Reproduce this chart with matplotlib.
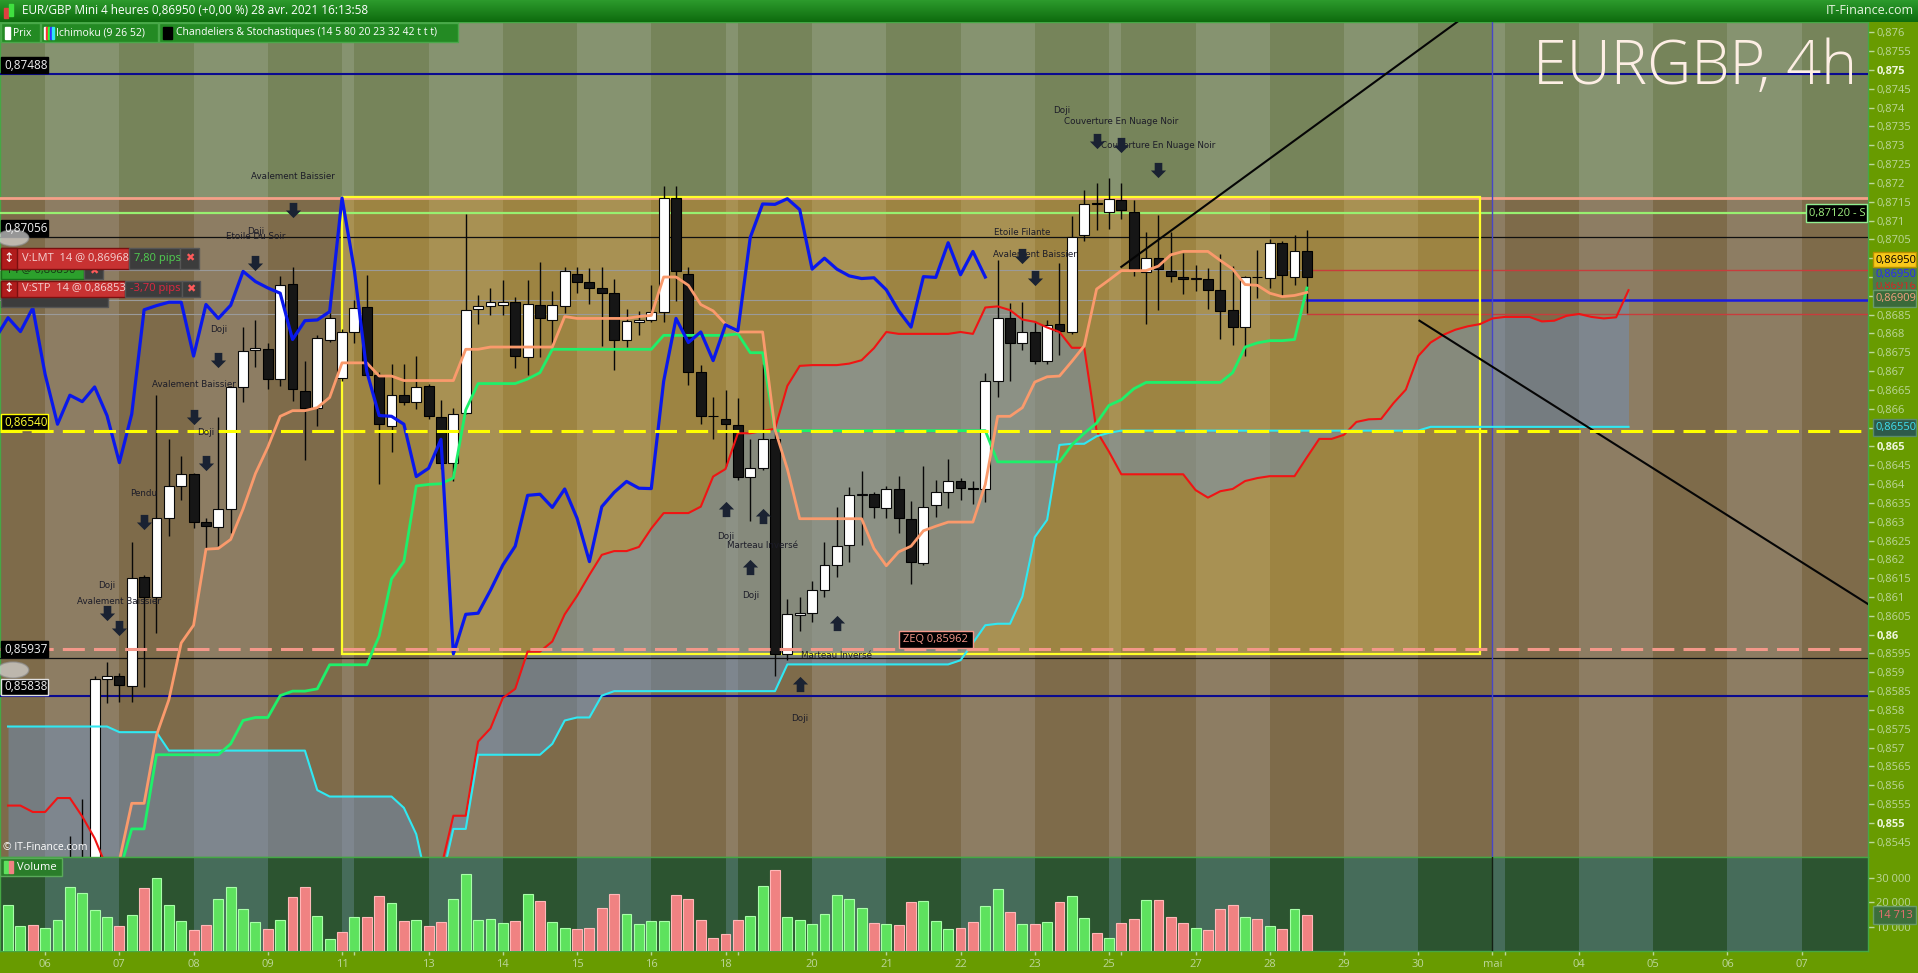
import numpy as np
import pandas as pd
import matplotlib
matplotlib.use("Agg")
import matplotlib.pyplot as plt
from matplotlib.patches import Rectangle
from matplotlib.path import Path
from matplotlib.colors import LinearSegmentedColormap

# ---------------------------------------------------------------- data
opens = [0.8512, 0.8515, 0.8519, 0.8513, 0.8517, 0.8525, 0.8538, 0.8539, 0.85883, 0.85891,
         0.85864, 0.86153, 0.86101, 0.86311, 0.86395, 0.86426, 0.86299, 0.86285, 0.86333, 0.86658,
         0.86755, 0.86758, 0.86678, 0.86932, 0.86647, 0.86601, 0.86784, 0.86681, 0.86805, 0.86870,
         0.86691, 0.86553, 0.86636, 0.86617, 0.86660, 0.86577, 0.86455, 0.86588, 0.86866, 0.86874,
         0.86876, 0.86883, 0.86737, 0.86875, 0.86835, 0.86874, 0.86959, 0.86936, 0.86921, 0.86907,
         0.86782, 0.86831, 0.86837, 0.86858, 0.87160, 0.86959, 0.86699, 0.86582, 0.86572, 0.86556,
         0.86420, 0.86442, 0.86519, 0.85949, 0.86052, 0.86058, 0.86118, 0.86185, 0.86239, 0.86371,
         0.86373, 0.86337, 0.86387, 0.86308, 0.86191, 0.86344, 0.86378, 0.86407, 0.86389, 0.86387,
         0.86675, 0.86840, 0.86775, 0.86804, 0.86726, 0.86825, 0.86805, 0.87061, 0.87146, 0.87123,
         0.87154, 0.87123, 0.86963, 0.87000, 0.86965, 0.86951, 0.86946, 0.86944, 0.86915, 0.86862,
         0.86817, 0.86950, 0.86948, 0.87041, 0.86951, 0.87020]
highs = [0.8518, 0.8522, 0.8521, 0.8520, 0.8528, 0.85464, 0.85564, 0.85891, 0.85928, 0.85899,
         0.86247, 0.86158, 0.86636, 0.86519, 0.86475, 0.86430, 0.86311, 0.86577, 0.86660, 0.86817,
         0.86837, 0.86775, 0.86952, 0.86977, 0.86726, 0.86795, 0.86854, 0.86813, 0.86889, 0.86956,
         0.86699, 0.86720, 0.86720, 0.86740, 0.86665, 0.86623, 0.86603, 0.87117, 0.86903, 0.86921,
         0.86942, 0.86897, 0.86942, 0.86991, 0.86913, 0.86977, 0.86977, 0.86973, 0.86977, 0.86944,
         0.86866, 0.86860, 0.86930, 0.87193, 0.87193, 0.86977, 0.86716, 0.86632, 0.86650, 0.86629,
         0.86521, 0.86720, 0.86545, 0.86095, 0.86101, 0.86142, 0.86247, 0.86340, 0.86393, 0.86434,
         0.86380, 0.86395, 0.86422, 0.86356, 0.86448, 0.86410, 0.86466, 0.86416, 0.86407, 0.86696,
         0.86994, 0.86881, 0.86883, 0.86833, 0.86837, 0.86988, 0.87111, 0.87181, 0.87199, 0.87213,
         0.87199, 0.87154, 0.87070, 0.87115, 0.87070, 0.87014, 0.86983, 0.86974, 0.87012, 0.86980,
         0.86953, 0.87021, 0.87050, 0.87047, 0.87061, 0.87074]
lows = [0.8506, 0.8511, 0.8510, 0.8509, 0.8514, 0.8522, 0.8533, 0.8535, 0.85818, 0.85821,
        0.85821, 0.85862, 0.86005, 0.86262, 0.86358, 0.86282, 0.86229, 0.86235, 0.86270, 0.86617,
        0.86712, 0.86653, 0.86661, 0.86621, 0.86465, 0.86553, 0.86778, 0.86675, 0.86775, 0.86691,
        0.86399, 0.86484, 0.86611, 0.86600, 0.86574, 0.86440, 0.86407, 0.86585, 0.86825, 0.86848,
        0.86848, 0.86708, 0.86691, 0.86737, 0.86772, 0.86854, 0.86907, 0.86877, 0.86767, 0.86702,
        0.86764, 0.86795, 0.86831, 0.86831, 0.86887, 0.86664, 0.86559, 0.86521, 0.86449, 0.86410,
        0.86302, 0.86438, 0.85891, 0.85932, 0.86010, 0.86034, 0.86099, 0.86153, 0.86194, 0.86239,
        0.86311, 0.86311, 0.86270, 0.86134, 0.86185, 0.86313, 0.86337, 0.86358, 0.86346, 0.86352,
        0.86632, 0.86675, 0.86755, 0.86720, 0.86720, 0.86743, 0.86799, 0.87047, 0.87076, 0.87078,
        0.87104, 0.86953, 0.86825, 0.86862, 0.86936, 0.86904, 0.86912, 0.86866, 0.86786, 0.86769,
        0.86741, 0.86895, 0.86921, 0.86897, 0.86930, 0.86854]
closes = [0.8515, 0.8519, 0.8513, 0.8517, 0.8525, 0.8538, 0.8540, 0.85881, 0.85891, 0.85865,
          0.86150, 0.86101, 0.86311, 0.86396, 0.86426, 0.86299, 0.86288, 0.86333, 0.86658, 0.86753,
          0.86761, 0.86680, 0.86930, 0.86652, 0.86601, 0.86788, 0.86842, 0.86805, 0.86868, 0.86691,
          0.86559, 0.86636, 0.86619, 0.86658, 0.86582, 0.86457, 0.86586, 0.86863, 0.86874, 0.86883,
          0.86883, 0.86740, 0.86877, 0.86840, 0.86875, 0.86965, 0.86938, 0.86921, 0.86907, 0.86784,
          0.86834, 0.86836, 0.86858, 0.87160, 0.86967, 0.86699, 0.86582, 0.86580, 0.86559, 0.86420,
          0.86442, 0.86519, 0.85949, 0.86054, 0.86057, 0.86118, 0.86185, 0.86235, 0.86370, 0.86373,
          0.86338, 0.86387, 0.86309, 0.86194, 0.86340, 0.86378, 0.86407, 0.86389, 0.86388, 0.86673,
          0.86840, 0.86776, 0.86804, 0.86728, 0.86823, 0.86807, 0.87055, 0.87144, 0.87143, 0.87158,
          0.87129, 0.86971, 0.87000, 0.86971, 0.86953, 0.86946, 0.86948, 0.86916, 0.86860, 0.86817,
          0.86951, 0.86949, 0.87041, 0.86956, 0.87018, 0.86950]
volumes_k = [18.8, 10.2, 10.6, 9.4, 12.7, 26.1, 23.7, 16.7, 13.9, 10.2,
             14.7, 25.7, 29.8, 18.8, 12.2, 8.6, 10.6, 21.2, 26.1, 17.1,
             11.8, 9.0, 12.7, 22.0, 26.1, 14.3, 4.9, 7.8, 13.9, 13.9,
             22.4, 19.6, 12.2, 12.7, 10.2, 11.8, 21.2, 31.4, 12.7, 13.1,
             11.4, 12.2, 23.3, 20.4, 11.8, 9.4, 9.0, 9.4, 17.6, 23.3,
             15.1, 11.0, 12.2, 12.2, 22.9, 21.2, 12.7, 5.3, 6.9, 12.7,
             14.3, 26.5, 33.1, 13.9, 12.7, 11.0, 15.1, 22.9, 21.2, 17.6,
             11.4, 11.0, 10.6, 20.0, 20.4, 12.2, 9.0, 9.4, 11.8, 18.4,
             25.3, 15.9, 11.0, 11.0, 11.8, 20.0, 22.4, 13.5, 7.3, 5.3,
             11.4, 13.1, 20.8, 20.8, 13.9, 11.4, 9.4, 8.6, 17.1, 18.8,
             13.9, 13.1, 10.2, 9.0, 17.1, 14.713]
tenkan = [0.8513, 0.8514, 0.8515, 0.8515, 0.8516, 0.8520, 0.8526, 0.8532, 0.8536, 0.8540,
          0.85552, 0.85552, 0.85733, 0.85827, 0.85978, 0.86025, 0.86227, 0.86229, 0.86253, 0.86334,
          0.86428, 0.86498, 0.86580, 0.86595, 0.86595, 0.86603, 0.86630, 0.86722, 0.86722, 0.86722,
          0.86687, 0.86687, 0.86675, 0.86675, 0.86675, 0.86675, 0.86675, 0.86758, 0.86758, 0.86764,
          0.86764, 0.86764, 0.86764, 0.86764, 0.86764, 0.86845, 0.86840, 0.86840, 0.86840, 0.86840,
          0.86840, 0.86845, 0.86848, 0.86950, 0.86950, 0.86928, 0.86877, 0.86860, 0.86825, 0.86804,
          0.86804, 0.86804, 0.86545, 0.86440, 0.86308, 0.86308, 0.86308, 0.86308, 0.86308, 0.86308,
          0.86229, 0.86183, 0.86220, 0.86235, 0.86276, 0.86288, 0.86299, 0.86299, 0.86299, 0.86399,
          0.86580, 0.86580, 0.86603, 0.86671, 0.86685, 0.86687, 0.86726, 0.86767, 0.86918, 0.86942,
          0.86967, 0.86967, 0.86967, 0.86979, 0.87009, 0.87018, 0.87018, 0.87018, 0.86994, 0.86971,
          0.86930, 0.86928, 0.86907, 0.86898, 0.86901, 0.86909]
kijun = [0.8515, 0.8515, 0.8515, 0.8515, 0.8516, 0.8518, 0.8522, 0.8528, 0.8533, 0.8537,
         0.85484, 0.85484, 0.85681, 0.85681, 0.85681, 0.85681, 0.85681, 0.85681, 0.85710, 0.85772,
         0.85780, 0.85780, 0.85838, 0.85850, 0.85850, 0.85856, 0.85920, 0.85920, 0.85920, 0.85920,
         0.85996, 0.86148, 0.86194, 0.86395, 0.86399, 0.86401, 0.86416, 0.86597, 0.86667, 0.86667,
         0.86667, 0.86667, 0.86679, 0.86696, 0.86758, 0.86758, 0.86758, 0.86758, 0.86758, 0.86758,
         0.86758, 0.86758, 0.86758, 0.86795, 0.86795, 0.86795, 0.86795, 0.86795, 0.86795, 0.86799,
         0.86749, 0.86749, 0.86542, 0.86542, 0.86542, 0.86542, 0.86542, 0.86542, 0.86542, 0.86542,
         0.86542, 0.86542, 0.86542, 0.86542, 0.86542, 0.86542, 0.86542, 0.86542, 0.86542, 0.86542,
         0.86459, 0.86459, 0.86459, 0.86459, 0.86459, 0.86459, 0.86504, 0.86535, 0.86562, 0.86609,
         0.86624, 0.86653, 0.86670, 0.86670, 0.86670, 0.86670, 0.86670, 0.86670, 0.86670, 0.86696,
         0.86764, 0.86775, 0.86781, 0.86781, 0.86784, 0.86921]
senkou_a = [0.85546, 0.85546, 0.85529, 0.85529, 0.85566, 0.85566, 0.85517, 0.85459,
            0.8538, 0.8533, 0.8530, 0.8528, 0.8527, 0.8526, 0.8526, 0.8525, 0.8525, 0.8524,
            0.8524, 0.8523, 0.8523, 0.8522, 0.8521, 0.8520, 0.8518, 0.8516,
            0.8514, 0.8515, 0.8516, 0.8516, 0.8517, 0.8520, 0.8525, 0.8530, 0.8535, 0.8538,
            0.85519, 0.85519, 0.85716, 0.85751, 0.85832, 0.85856, 0.85955, 0.85955, 0.85982, 0.86054,
            0.86103, 0.86159, 0.86212, 0.86222, 0.86222, 0.86233, 0.86282, 0.86323, 0.86323, 0.86323,
            0.86340, 0.86420, 0.86440, 0.86535, 0.86535, 0.86541, 0.86547, 0.86661, 0.86714, 0.86716,
            0.86716, 0.86716, 0.86720, 0.86729, 0.86761, 0.86804, 0.86799, 0.86799, 0.86799, 0.86799,
            0.86799, 0.86804, 0.86799, 0.86869, 0.86872, 0.86862, 0.86837, 0.86831, 0.86816, 0.86804,
            0.86762, 0.86762, 0.86541, 0.86486, 0.86426, 0.86426, 0.86426, 0.86426, 0.86426, 0.86426,
            0.86384, 0.86364, 0.86381, 0.86387, 0.86408, 0.86416, 0.86421, 0.86421, 0.86421, 0.86471,
            0.86520, 0.86520, 0.86531, 0.86565, 0.86572, 0.86573, 0.86615, 0.86651, 0.86740, 0.86776,
            0.86796, 0.86810, 0.86819, 0.86825, 0.86840, 0.86844, 0.86844, 0.86844, 0.86832, 0.86834,
            0.86847, 0.86852, 0.86844, 0.86840, 0.86843, 0.86915]
senkou_b = ([0.85756] * 9 + [0.85741] * 4 + [0.85692] * 12 + [0.85587] + [0.85570] * 6
            + [0.85540, 0.85470, 0.8532, 0.8534] + [0.85484] * 2 + [0.85681] * 6
            + [0.85710, 0.85772, 0.85780, 0.85780, 0.85838] + [0.85850] * 14 + [0.85921] * 14
            + [0.85932, 0.85978, 0.86025, 0.86029, 0.86029, 0.86101, 0.86259, 0.86305, 0.86504,
               0.86507, 0.86507, 0.86527, 0.86536]
            + [0.86542] * 25 + [0.86552] * 17)

# drawn objects (user levels / tools)
level_navy = [0.87488, 0.85838]
level_resist = 0.87160
level_s = 0.87120
level_black = [0.87056, 0.85937]
level_yellow = 0.86540
level_zeq = 0.85962
order_levels = [(0.86968, '#c83c3c', 1.0), (0.86890, '#1a1ae0', 1.8), (0.86853, '#c83c3c', 1.0)]
rect_bars = (27, 119)
rect_prices = (0.85949, 0.87162)
trend_up = ([90, 118.5], [0.86977, 0.87660])
trend_down = ([114.1, 151.0], [0.86834, 0.86068])

pattern_texts = [
    (23, "Avalement Baissier", 0.87216), (20, "Doji", 0.87071), (20, "Etoile Du Soir", 0.87057),
    (17, "Doji", 0.86810), (15, "Avalement Baissier", 0.86664), (16, "Doji", 0.86536),
    (11, "Pendu", 0.86374), (8, "Doji", 0.86130), (9, "Avalement Baissier", 0.86087),
    (58, "Doji", 0.86260), (61, "Marteau Inversé", 0.86236), (60, "Doji", 0.86103),
    (67, "Marteau Inversé", 0.85945), (64, "Doji", 0.85777),
    (82, "Etoile Filante", 0.87068), (83, "Avalement Baissier", 0.87009),
    (85.2, "Doji", 0.87392), (90, "Couverture En Nuage Noir", 0.87362),
    (93, "Couverture En Nuage Noir", 0.87299)]
pattern_arrows = [
    (23, 0.87129, 'down'), (20, 0.86988, 'down'), (17, 0.86729, 'down'), (15, 0.86579, 'down'),
    (16, 0.86456, 'down'), (11, 0.86300, 'down'), (8, 0.86058, 'down'), (9, 0.86018, 'down'),
    (58, 0.86334, 'up'), (61, 0.86316, 'up'), (60, 0.86181, 'up'), (67, 0.86030, 'up'),
    (64, 0.85868, 'up'), (82, 0.87005, 'down'), (83, 0.86947, 'down'), (88, 0.87312, 'down'),
    (90, 0.87302, 'down'), (93, 0.87234, 'down')]

# ---------------------------------------------------------------- setup
plt.rcParams['font.family'] = ['Open Sans', 'DejaVu Sans']
W, H = 1918, 973
AXIS_GREEN = '#689b00'
fig = plt.figure(figsize=(W / 100, H / 100), dpi=100, facecolor=AXIS_GREEN)

# time axis: 4h bars, weekdays 6 bars, Sunday evening 1 bar
start = pd.Timestamp('2021-04-05 12:00')
times = []
d = pd.Timestamp('2021-04-05')
while len(times) < 152:
    wd = d.weekday()
    hrs = list(range(0, 24, 4)) if wd < 5 else ([20] if wd == 6 else [])
    for hh in hrs:
        t = d + pd.Timedelta(hours=hh)
        if t >= start:
            times.append(t)
    d += pd.Timedelta(days=1)
times = times[:152]

N = len(closes)
xb = np.arange(N)
o, h, l, c = map(np.array, (opens, highs, lows, closes))
XMIN, XMAX = -0.65, 150.36
YMIN, YMAX = 0.854094, 0.876274
bounds = [i for i in range(1, len(times))
          if times[i].date() != times[i - 1].date() and i < XMAX]

ax = fig.add_axes([0, 1 - 857 / H, 1868 / W, 835 / H])
axv = fig.add_axes([0, 1 - 951 / H, 1868 / W, 94 / H])
for a in (ax, axv):
    a.set_xlim(XMIN, XMAX)
    for sp in a.spines.values():
        sp.set_color('#45a845')
        sp.set_linewidth(1)
ax.set_ylim(YMIN, YMAX)
axv.set_ylim(0, 38.4)

# backgrounds & day stripes
ax.set_facecolor('#7e6b4a')
ax.axhspan(level_resist, YMAX + 0.01, color='#76845a', lw=0, zorder=0)
axv.set_facecolor('#2c5430')
edges = [XMIN - 1] + bounds + [XMAX + 1]
for k in range(len(edges) - 1):
    if k % 2 == 1:
        ax.axvspan(edges[k], edges[k + 1], color='#e4eaf4', alpha=0.15, lw=0, zorder=0.5)
        axv.axvspan(edges[k], edges[k + 1], color='#466c5a', lw=0, zorder=0.5)

# rectangle tool
r0, r1 = rect_bars
p0, p1 = rect_prices
ax.add_patch(Rectangle((r0, p0), r1 - r0, p1 - p0, fc='#e8c030', alpha=0.3, lw=0, zorder=1))
ax.add_patch(Rectangle((r0, p0), r1 - r0, p1 - p0, fill=False, ec='#ffff28', lw=1.6, zorder=4.6))

# kumo (the platform shades down to the panel floor where span A has no earlier history)
xs = np.arange(len(senkou_a))
sa, sb = np.array(senkou_a), np.array(senkou_b)
lower = np.where(xs <= 7, YMIN - 0.002, sa)
ax.fill_between(xs, lower, sb, color='#6c92c4', alpha=0.45, lw=0, zorder=2)

# horizontal levels
for p in level_navy:
    ax.axhline(p, color='#0a0a90', lw=1.5, zorder=4)
ax.axhline(level_resist, color='#f4a088', lw=2.0, zorder=4)
ax.axhline(level_s, color='#98f070', lw=1.6, zorder=4)
for p in level_black:
    ax.axhline(p, color='#101010', lw=0.9, zorder=4)
ax.axhline(level_yellow, color='#ffff00', lw=2.2, ls=(0, (7.2, 3.0)), zorder=6.8)
ax.axhline(level_zeq, color='#f4988a', lw=2.2, ls=(0, (7.2, 3.0)), zorder=6.8)
for p, col, lw in order_levels:
    ax.plot([XMIN, N - 1], [p, p], color='#9a9a9a', lw=0.8, zorder=4)
    ax.plot([N - 1, XMAX], [p, p], color=col, lw=lw, zorder=4)

# mai separator
mai_idx = [b for b in bounds if times[b].month != times[b - 1].month][0]
ax.axvline(mai_idx, color='#4646c8', lw=1, zorder=4)
axv.axvline(mai_idx, color='#142014', lw=1, zorder=4)

# candles
up = c >= o
ax.vlines(xb, l, h, color='#080808', lw=1, zorder=5)
bb = np.minimum(o, c)
bh = np.maximum(np.abs(c - o), 0.00002)
ax.bar(xb[up], bh[up], bottom=bb[up], width=0.8, color='white', edgecolor='#080808', lw=0.8, zorder=5.5)
ax.bar(xb[~up], bh[~up], bottom=bb[~up], width=0.8, color='#161616', edgecolor='#000000', lw=0.8, zorder=5.5)

# ichimoku lines
ax.plot(xs, sa, color='#f01414', lw=1.5, zorder=6)
ax.plot(xs, sb, color='#30e8f2', lw=1.5, zorder=6)
ax.plot(xb, kijun, color='#1ef06a', lw=2.0, zorder=6.2)
ax.plot(xb, tenkan, color='#fa9a6c', lw=2.0, zorder=6.3)
chik_x = xb - 26
m = chik_x >= -1
ax.plot(chik_x[m], c[m], color='#0a18ec', lw=2.3, zorder=6.4)

# trend lines
ax.plot(*trend_up, color='#050505', lw=1.5, zorder=6.5)
ax.plot(*trend_down, color='#050505', lw=1.5, zorder=6.5)

# pattern annotations
arrow_down = Path([(-0.25, 0.5), (0.25, 0.5), (0.25, 0.0), (0.5, 0.0), (0, -0.5), (-0.5, 0.0),
                   (-0.25, 0.0), (-0.25, 0.5)])
arrow_up = Path([(x_, -y_) for x_, y_ in arrow_down.vertices])
for bi, txt, pr in pattern_texts:
    ax.text(bi, pr, txt, fontsize=6.3, color='#1c1c28', ha='center', va='center',
            family='DejaVu Sans', zorder=7)
for bi, pr, dr in pattern_arrows:
    ax.scatter([bi], [pr], marker=arrow_down if dr == 'down' else arrow_up, s=120,
               color='#1a2232', zorder=7, lw=0)

# volume
vcol = ['#5ee25e' if (i == 0 or c[i] >= c[i - 1]) else '#f08282' for i in range(N)]
vedge = ['#a8ffa8' if vc == '#5ee25e' else '#ffb8b8' for vc in vcol]
axv.bar(xb, volumes_k, width=0.8, color=vcol, edgecolor=vedge, lw=0.8, zorder=3)


# ---------------------------------------------------------------- axes ticks
def fmt_tick(v):
    s = f"{v:.4f}".rstrip('0')
    return s.replace('.', ',')


def fmt_level(v):
    return f"{v:.5f}".replace('.', ',')


covered = {0.87, 0.8695, 0.869, 0.8655}
yt = np.round(np.arange(0.8545, 0.87601, 0.0005), 4)
ax.yaxis.tick_right()
ax.set_yticks(yt)
ax.set_yticklabels(['' if round(v, 4) in covered else fmt_tick(v) for v in yt])
ax.tick_params(axis='y', direction='out', length=4, width=1, colors='#bcd69a', labelsize=8, pad=2)
for v, lab in zip(yt, ax.get_yticklabels()):
    if abs(v * 200 - round(v * 200)) < 1e-6:
        lab.set_color('#eef6dc')
        lab.set_fontweight('bold')
ax.set_xticks([])

axv.yaxis.tick_right()
axv.set_yticks([10, 20, 30])
axv.set_yticklabels(['10 000', '20 000', '30 000'])
axv.tick_params(axis='y', direction='out', length=4, width=1, colors='#bcd69a', labelsize=8, pad=2)

mois = {5: 'mai', 4: 'avr.'}
major, labels = [], []
for j, b in enumerate(bounds):
    if j > 0 and b - bounds[j - 1] <= 1:
        continue
    major.append(b)
    labels.append(mois[times[b].month] if times[b].month != times[b - 1].month else f"{times[b].day:02d}")
axv.set_xticks(major)
axv.set_xticklabels(labels)
axv.set_xticks(bounds, minor=True)
axv.tick_params(axis='x', which='both', direction='out', length=3, width=1, colors='#bcd69a',
                labelsize=8, pad=3)

# ---------------------------------------------------------------- overlay widgets
fig.canvas.draw()


def py(p):
    return H - ax.transData.transform((0, p))[1]


def box(x0, y0, x1, y1, fc, ec=None, lw=1.0, z=10, alpha=1.0):
    fig.add_artist(Rectangle((x0 / W, 1 - y1 / H), (x1 - x0) / W, (y1 - y0) / H,
                             transform=fig.transFigure, facecolor=fc,
                             edgecolor=ec if ec else fc, linewidth=lw, zorder=z, alpha=alpha))


def ftext(x, y, s, z=11, **kw):
    kw.setdefault('va', 'center')
    fig.text(x / W, 1 - y / H, s, zorder=z, **kw)


# header
axh = fig.add_axes([0, 1 - 22 / H, 1, 22 / H])
axh.imshow(np.linspace(0, 1, 22)[:, None], aspect='auto', extent=[0, 1, 0, 1],
           cmap=LinearSegmentedColormap.from_list('hd', ['#2c9a2c', '#0e6c0e']))
axh.set_axis_off()
box(4, 8, 8, 18, '#e04040', z=12)
box(9, 4, 13, 16, '#40e040', z=12)
ftext(22, 11, "EUR/GBP Mini 4 heures 0,86950 (+0,00 %) 28 avr. 2021 16:13:58", color='white', fontsize=8.5)
ftext(1914, 11, "IT-Finance.com", color='#e8f4e0', fontsize=9, ha='right')

# indicator legend row
for x0, x1 in [(1, 40), (41, 158), (159, 458)]:
    box(x0, 23, x1, 42, '#238a23', '#4aa84a', z=12)
box(5, 27, 10, 39, 'white', z=13)
for k, col in enumerate(['#ffffff', '#ff3030', '#30ff30', '#3030ff', '#30e8f2']):
    box(44 + 2 * k, 27, 46 + 2 * k, 39, col, z=13)
box(163, 27, 172, 39, 'black', z=13)
ftext(13, 33, "Prix", color='white', fontsize=7.5, z=14)
ftext(56, 33, "Ichimoku (9 26 52)", color='white', fontsize=7.5, z=14)
ftext(176, 33, "Chandeliers & Stochastiques (14 5 80 20 23 32 42 t t t)", color='white', fontsize=7.5, z=14)

# watermark
ftext(1857, 84, "EURGBP, 4h", color='#fdeee4', fontsize=44, ha='right', va='baseline',
      fontweight='light', z=9)

# left price tags
for p, fc, ec, tc in [(level_navy[0], 'black', 'black', '#f0f0f0'),
                      (level_black[0], 'black', 'black', '#f0f0f0'),
                      (level_yellow, 'black', '#ffff00', '#ffff30'),
                      (level_black[1], 'black', 'black', '#f0f0f0'),
                      (level_navy[1], 'black', '#e0e0e0', '#f0f0f0')]:
    yb = py(p)
    box(1, yb - 17, 48, yb - 1, fc, ec, z=12)
    ftext(4, yb - 9, fmt_level(p), color=tc, fontsize=8.5, z=13)


# order tickets
def ticket(y0, y1, x1, label, pips, pips_col, x2, x3):
    box(1, y0, x1, y1, '#c83232', '#7a1010', z=14)
    box(1, y0, 17, y1, '#b01c1c', '#7a1010', z=14)
    ftext(9, (y0 + y1) / 2, "↕", color='white', fontsize=9, ha='center', z=15, family='DejaVu Sans')
    ftext(22, (y0 + y1) / 2, label, color='#f4d0d0', fontsize=8, z=15)
    box(x1, y0, x2, y1, '#3c3c3c', '#555555', z=14)
    ftext(x1 + 5, (y0 + y1) / 2, pips, color=pips_col, fontsize=8, z=15)
    box(x2, y0, x3, y1, '#3c3c3c', '#555555', z=14)
    ftext((x2 + x3) / 2, (y0 + y1) / 2, "✖", color='#ff5a5a', fontsize=8, ha='center', z=15,
          family='DejaVu Sans')


box(1, 262, 84, 279, '#2ca02c', '#1a701a', z=13)
ftext(6, 271, "14 @ 0,86890", color='#143814', fontsize=8, z=13.5)
box(84, 262, 103, 279, '#3c3c3c', '#555555', z=13)
ftext(93.5, 271, "✖", color='#ff5a5a', fontsize=8, ha='center', z=13.5, family='DejaVu Sans')
box(1, 297, 108, 307, '#3c3c3c', '#555555', z=13)
ticket(248, 269, 129, "V:LMT  14 @ 0,86968", "7,80 pips", '#50d050', 180, 199)
ticket(281, 297, 125, "V:STP  14 @ 0,86853", "-3,70 pips", '#e02840', 182, 200)
for yy in (238, 670):
    fig.add_artist(plt.Circle((13 / W, 1 - yy / H), 8 / H, transform=fig.transFigure,
                              facecolor='#d8d8d8', edgecolor='#909090', alpha=0.7, zorder=12))

# right-side tags
ys = py(level_s)
box(1806, ys - 9, 1867, ys + 9, 'black', '#90ee90', z=12)
ftext(1809, ys, "0,87120 - S", color='#a0f080', fontsize=8, z=13)
box(1873, 280, 1916, 291, '#4a7a4a', z=12)
ftext(1876, 286, "0,86916", color='#e02020', fontsize=8, z=12.5)
box(1873, 267, 1916, 281, '#4a7a4a', z=12.6)
ftext(1876, 275, "0,86950", color='#2828ff', fontsize=8, z=12.7)
box(1873, 252, 1916, 267, '#f8c81a', '#b89000', z=13)
ftext(1876, 260, "0,86950", color='black', fontsize=8, z=13.5)
box(1873, 290, 1916, 307, '#3a6a3a', '#6a9a6a', z=13)
ftext(1876, 298.5, "0,86909", color='#f4a080', fontsize=8, z=13.5)
yc = py(0.86550)
box(1873, yc - 9, 1916, yc + 8, '#2e5a4a', '#5a8a6a', z=13)
ftext(1876, yc, "0,86550", color='#40e0f0', fontsize=8, z=13.5)
box(1873, 906, 1916, 924, '#3c6e3c', '#6a9a6a', z=13)
ftext(1878, 915, "14 713", color='#e87070', fontsize=8, z=13.5)

# ZEQ tag
yz = py(level_zeq)
box(899, yz - 18, 973, yz - 1, 'black', '#f4988a', z=12)
ftext(903, yz - 9.5, "ZEQ 0,85962", color='#f4988a', fontsize=8, z=13)

# volume legend & copyright
box(0, 858, 62, 876, '#2a7d2a', '#5aaa5a', z=12)
box(4, 861, 8, 873, '#5ee25e', z=13)
box(9, 861, 13, 873, '#f08282', z=13)
ftext(17, 867, "Volume", color='white', fontsize=8, z=13)
ftext(3, 847, "© IT-Finance.com", color='white', fontsize=7.5, z=12)

fig.savefig('out.png', dpi=100, facecolor=AXIS_GREEN)
